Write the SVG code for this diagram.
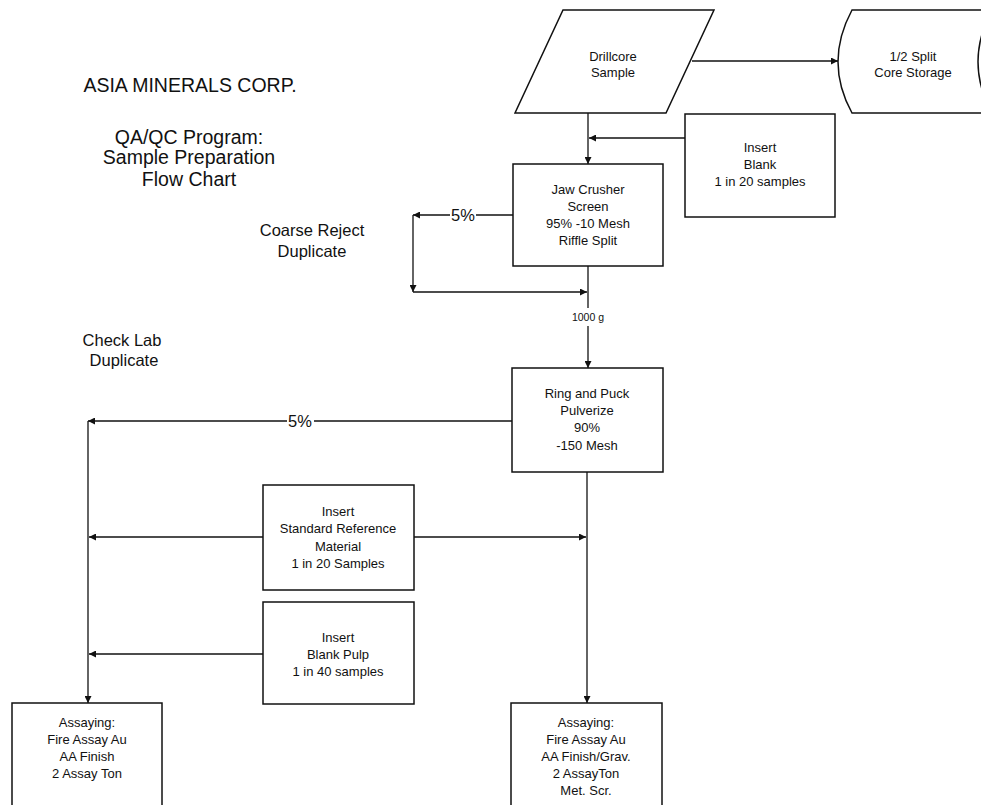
<svg xmlns="http://www.w3.org/2000/svg" width="981" height="805" viewBox="0 0 981 805">
<defs>
<style>
text{font-family:"Liberation Sans",Arial,sans-serif;fill:#111;text-anchor:middle}
.t{font-size:19.5px}
.s{font-size:16.5px}
.b{font-size:13px}
.sm{font-size:10.5px}
.box{fill:#fff;stroke:#111;stroke-width:1.5}
.ln{fill:none;stroke:#111;stroke-width:1.3}
</style>
<marker id="ah" viewBox="0 0 10 10" refX="10" refY="5" markerWidth="8" markerHeight="7" markerUnits="userSpaceOnUse" orient="auto">
<path d="M0,0 L10,5 L0,10 Z" fill="#111"/>
</marker>
</defs>
<rect width="981" height="805" fill="#fff"/>

<g id="titles">
<text class="t" x="190" y="92">ASIA MINERALS CORP.</text>
<text class="t" x="189" y="144">QA/QC Program:</text>
<text class="t" x="189" y="164">Sample Preparation</text>
<text class="t" x="189" y="186">Flow Chart</text>
<text class="s" x="312" y="236">Coarse Reject</text>
<text class="s" x="312" y="257">Duplicate</text>
<text class="s" x="122" y="346">Check Lab</text>
<text class="s" x="124" y="366">Duplicate</text>
</g>

<g id="connectors">
<line class="ln" x1="692" y1="61" x2="838" y2="61" marker-end="url(#ah)"/>
<line class="ln" x1="588" y1="113" x2="588" y2="164" marker-end="url(#ah)"/>
<line class="ln" x1="685" y1="138" x2="589" y2="138" marker-end="url(#ah)"/>
<line class="ln" x1="513" y1="215" x2="413" y2="215" marker-end="url(#ah)"/>
<line class="ln" x1="413" y1="215" x2="413" y2="292" marker-end="url(#ah)"/>
<line class="ln" x1="413" y1="292" x2="587" y2="292" marker-end="url(#ah)"/>
<line class="ln" x1="588" y1="266" x2="588" y2="308"/>
<line class="ln" x1="588" y1="326" x2="588" y2="368" marker-end="url(#ah)"/>
<line class="ln" x1="512" y1="421" x2="88" y2="421" marker-end="url(#ah)"/>
<line class="ln" x1="88" y1="421" x2="88" y2="703" marker-end="url(#ah)"/>
<line class="ln" x1="587" y1="472" x2="587" y2="703" marker-end="url(#ah)"/>
<line class="ln" x1="263" y1="537" x2="89" y2="537" marker-end="url(#ah)"/>
<line class="ln" x1="414" y1="537" x2="586" y2="537" marker-end="url(#ah)"/>
<line class="ln" x1="263" y1="654" x2="89" y2="654" marker-end="url(#ah)"/>
<rect x="450" y="206" width="26" height="18" fill="#fff"/>
<text class="s" x="463" y="221">5%</text>
<rect x="287" y="412" width="27" height="18" fill="#fff"/>
<text class="s" x="300" y="427">5%</text>
<text class="sm" x="588" y="321">1000 g</text>
</g>

<g id="drillcore">
<path class="box" d="M563,10 L714,10 L666,113 L515,113 Z"/>
<text class="b" x="613" y="61">Drillcore</text>
<text class="b" x="613" y="77">Sample</text>
</g>

<g id="storage">
<path class="box" d="M852,10 L992,10 Q964,62 992,113 L852,113 Q824,62 852,10 Z"/>
<text class="b" x="913" y="61">1/2 Split</text>
<text class="b" x="913" y="77">Core Storage</text>
</g>

<g id="insert-blank">
<rect class="box" x="685" y="114" width="150" height="103"/>
<text class="b" x="760" y="152">Insert</text>
<text class="b" x="760" y="169">Blank</text>
<text class="b" x="760" y="186">1 in 20 samples</text>
</g>

<g id="jaw-crusher">
<rect class="box" x="513" y="164" width="150" height="102"/>
<text class="b" x="588" y="193.5">Jaw Crusher</text>
<text class="b" x="588" y="210.5">Screen</text>
<text class="b" x="588" y="227.5">95% -10 Mesh</text>
<text class="b" x="588" y="244.5">Riffle Split</text>
</g>

<g id="ring-puck">
<rect class="box" x="512" y="368" width="151" height="104"/>
<text class="b" x="587" y="398">Ring and Puck</text>
<text class="b" x="587" y="415">Pulverize</text>
<text class="b" x="587" y="432">90%</text>
<text class="b" x="587" y="449.5">-150 Mesh</text>
</g>

<g id="insert-srm">
<rect class="box" x="263" y="485" width="151" height="105"/>
<text class="b" x="338" y="515.5">Insert</text>
<text class="b" x="338" y="533">Standard Reference</text>
<text class="b" x="338" y="550.5">Material</text>
<text class="b" x="338" y="568">1 in 20 Samples</text>
</g>

<g id="insert-blank-pulp">
<rect class="box" x="263" y="602" width="151" height="102"/>
<text class="b" x="338" y="641.5">Insert</text>
<text class="b" x="338" y="658.5">Blank Pulp</text>
<text class="b" x="338" y="675.5">1 in 40 samples</text>
</g>

<g id="assay-left">
<rect class="box" x="12" y="703" width="150" height="120"/>
<text class="b" x="87" y="726.5">Assaying:</text>
<text class="b" x="87" y="743.5">Fire Assay Au</text>
<text class="b" x="87" y="760.5">AA Finish</text>
<text class="b" x="87" y="777.5">2 Assay Ton</text>
</g>

<g id="assay-right">
<rect class="box" x="511" y="703" width="151" height="120"/>
<text class="b" x="586" y="726.5">Assaying:</text>
<text class="b" x="586" y="743.5">Fire Assay Au</text>
<text class="b" x="586" y="760.5">AA Finish/Grav.</text>
<text class="b" x="586" y="777.5">2 AssayTon</text>
<text class="b" x="586" y="794.5">Met. Scr.</text>
</g>
</svg>
